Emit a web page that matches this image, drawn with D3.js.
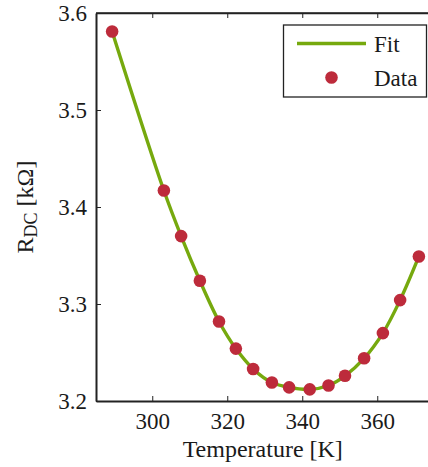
<!DOCTYPE html>
<html>
<head>
<meta charset="utf-8">
<script src="https://cdn.jsdelivr.net/npm/d3@7"></script>
<style>
  html, body { margin: 0; padding: 0; background: #fff; }
  svg { display: block; }
  svg text { font-family: "Liberation Serif", "Times New Roman", Times, "DejaVu Serif", serif !important; fill: #1a1a1a; }
</style>
</head>
<body>
<svg id="chart" width="428" height="467"></svg>
<script>
// ---- data ----
const temperature = [289.3, 303.1, 307.7, 312.7, 317.8, 322.3, 326.9, 331.9, 336.5, 342.0, 347.0, 351.4, 356.5, 361.5, 366.1, 371.1];
const resistance  = [3.581, 3.417, 3.370, 3.324, 3.282, 3.254, 3.233, 3.219, 3.214, 3.212, 3.216, 3.226, 3.244, 3.270, 3.304, 3.349];
const xTicks = [300, 320, 340, 360];
const yTicks = [3.2, 3.3, 3.4, 3.5, 3.6];
const legendLabels = ["Fit", "Data"];

const svg = d3.select("#chart");
const mLeft = 96, mRight = 433.5, mTop = 13, mBottom = 401;

const x = d3.scaleLinear().domain([285, 375]).range([mLeft, mRight]);
const y = d3.scaleLinear().domain([3.2, 3.6]).range([mBottom, mTop]);

const fitColor = "#76A90E";
const dotColor = "#BD2B3B";
const axisColor = "#222";

// frame (top mirrored axis)
svg.append("line").attr("x1", mLeft).attr("x2", mRight).attr("y1", mTop).attr("y2", mTop)
  .attr("stroke", axisColor).attr("stroke-width", 1.3);

// bottom axis
const xAxis = svg.append("g").attr("transform", `translate(0,${mBottom})`)
  .call(d3.axisBottom(x).tickValues(xTicks).tickSizeInner(-5).tickSizeOuter(0).tickPadding(12).tickFormat(d3.format("d")));
// top ticks
const xAxisTop = svg.append("g").attr("transform", `translate(0,${mTop})`)
  .call(d3.axisTop(x).tickValues(xTicks).tickSizeInner(-5).tickSizeOuter(0).tickFormat(""));
// left axis
const yAxis = svg.append("g").attr("transform", `translate(${mLeft},0)`)
  .call(d3.axisLeft(y).tickValues(yTicks).tickSizeInner(-5).tickSizeOuter(0).tickPadding(9).tickFormat(d3.format(".1f")));

[xAxis, xAxisTop, yAxis].forEach(g => {
  g.attr("font-family", null);
  g.select(".domain").attr("stroke", axisColor).attr("stroke-width", 2);
  g.selectAll(".tick line").attr("stroke", axisColor).attr("stroke-width", 1);
  g.selectAll(".tick text").attr("font-size", 23).attr("fill", "#1a1a1a");
});
xAxisTop.select(".domain").attr("stroke-width", 1.3);

// fit line
const line = d3.line().x((d, i) => x(temperature[i])).y(d => y(d)).curve(d3.curveCatmullRom.alpha(0.5));
svg.append("path").datum(resistance).attr("d", line)
  .attr("fill", "none").attr("stroke", fitColor).attr("stroke-width", 3.4);

// data points
svg.append("g").selectAll("circle").data(resistance).join("circle")
  .attr("cx", (d, i) => x(temperature[i])).attr("cy", d => y(d)).attr("r", 6.3)
  .attr("fill", dotColor);

// axis labels
svg.append("text").attr("x", (mLeft + mRight) / 2 - 2).attr("y", 457).attr("text-anchor", "middle")
  .attr("font-size", 24).text("Temperature [K]");

const yl = svg.append("text").attr("transform", `translate(33,${(mTop + mBottom) / 2}) rotate(-90)`)
  .attr("text-anchor", "middle").attr("font-size", 24);
yl.append("tspan").text("R");
yl.append("tspan").attr("font-size", 18).attr("dy", 4).text("DC");
yl.append("tspan").attr("dy", -4).text(" [kΩ]");

// legend
const lg = svg.append("g");
lg.append("rect").attr("x", 283.5).attr("y", 25).attr("width", 143).attr("height", 72)
  .attr("fill", "#fff").attr("stroke", axisColor).attr("stroke-width", 1.3);
lg.append("line").attr("x1", 297).attr("x2", 366).attr("y1", 43.5).attr("y2", 43.5)
  .attr("stroke", fitColor).attr("stroke-width", 3.4);
lg.append("circle").attr("cx", 331.5).attr("cy", 77.5).attr("r", 6.3).attr("fill", dotColor);
lg.selectAll("text.lbl").data(legendLabels).join("text").attr("class", "lbl")
  .attr("x", 374).attr("y", (d, i) => 52 + i * 34).attr("font-size", 23).text(d => d);
</script>
</body>
</html>
